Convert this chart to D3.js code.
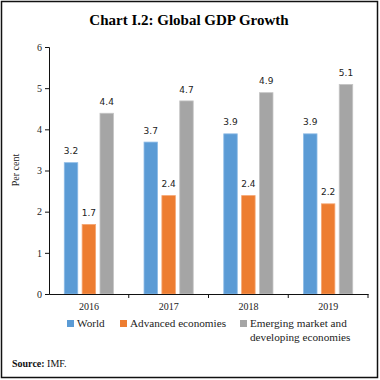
<!DOCTYPE html>
<html lang="en">
<head>
<meta charset="UTF-8">
<script src="https://d3js.org/d3.v7.min.js"></script>
<style>
  body { margin: 0; background: #fff; }
  svg { display: block; }
</style>
</head>
<body>
<svg id="chart" width="380" height="380"></svg>
<script>
var years = ["2016", "2017", "2018", "2019"];
var seriesNames = ["World", "Advanced economies", "Emerging market and developing economies"];
var world = [3.2, 3.7, 3.9, 3.9];
var advanced = [1.7, 2.4, 2.4, 2.2];
var emerging = [4.4, 4.7, 4.9, 5.1];
var yTicks = [0, 1, 2, 3, 4, 5, 6];
var colors = ["#5b9bd5", "#ed7d31", "#a5a5a5"];
var edges = ["#8dbbe6", "#f5a673", "#c4c4c4"];

var allSeries = [world, advanced, emerging];
var svg = d3.select("#chart");
var serif = "'Liberation Serif', 'DejaVu Serif', serif";
var sans = "'DejaVu Sans', Verdana, sans-serif";

// frame
svg.append("rect")
  .attr("x", 1.5).attr("y", 1.5)
  .attr("width", 376).attr("height", 376)
  .attr("fill", "none").attr("stroke", "#111").attr("stroke-width", 1.5);

// title
svg.append("text")
  .attr("x", 189).attr("y", 25)
  .attr("text-anchor", "middle")
  .style("font-family", serif).style("font-weight", "bold").style("font-size", "15px")
  .text("Chart I.2: Global GDP Growth");

var x0 = d3.scaleBand().domain(years).range([49, 368]);
var x1 = d3.scaleBand().domain(d3.range(3)).range([-25, 25]).paddingInner(0.2);
var y = d3.scaleLinear().domain([0, 6]).range([294, 47]);

// bars
var groups = svg.append("g").selectAll("g").data(years).enter().append("g")
  .attr("transform", function(d) { return "translate(" + (x0(d) + x0.bandwidth() / 2) + ",0)"; });

groups.selectAll("rect")
  .data(function(d, i) { return allSeries.map(function(s, k) { return { k: k, v: s[i] }; }); })
  .enter().append("rect")
  .attr("x", function(d) { return x1(d.k) + 0.4; })
  .attr("y", function(d) { return y(d.v) + 0.4; })
  .attr("width", x1.bandwidth() - 0.8)
  .attr("height", function(d) { return y(0) - y(d.v) - 0.4; })
  .attr("fill", function(d) { return colors[d.k]; })
  .attr("stroke", function(d) { return edges[d.k]; })
  .attr("stroke-width", 0.8);

groups.selectAll("text")
  .data(function(d, i) { return allSeries.map(function(s, k) { return { k: k, v: s[i] }; }); })
  .enter().append("text")
  .attr("x", function(d) { return x1(d.k) + x1.bandwidth() / 2; })
  .attr("y", function(d) { return y(d.v) - 8; })
  .attr("text-anchor", "middle")
  .style("font-family", sans).style("font-size", "9px").attr("fill", "#222")
  .text(function(d) { return d.v.toFixed(1); });

// y axis
var yAxis = svg.append("g")
  .attr("transform", "translate(49,0)")
  .call(d3.axisLeft(y).tickValues(yTicks).tickSize(4).tickFormat(d3.format("d")));
yAxis.select(".domain").attr("stroke", "#111");
yAxis.selectAll("line").attr("stroke", "#111");
yAxis.selectAll("text").style("font-family", serif).style("font-size", "10px").attr("fill", "#222");

// x axis
var xAxis = svg.append("g")
  .attr("transform", "translate(0,294)")
  .call(d3.axisBottom(x0).tickSize(0));
xAxis.select(".domain").attr("stroke", "#111");
xAxis.selectAll("text").attr("dy", "1.3em")
  .style("font-family", serif).style("font-size", "10px").attr("fill", "#222");
svg.append("g").selectAll("line").data(years.slice(1).concat(["end"])).enter().append("line")
  .attr("x1", function(d) { return d === "end" ? 368 : x0(d); })
  .attr("x2", function(d) { return d === "end" ? 368 : x0(d); })
  .attr("y1", 294).attr("y2", 298)
  .attr("stroke", "#111");

// y label
svg.append("text")
  .attr("transform", "translate(19,170) rotate(-90)")
  .attr("text-anchor", "middle")
  .style("font-family", serif).style("font-size", "10px").attr("fill", "#222")
  .text("Per cent");

// legend
var legendX = [67, 120, 240];
var legend = svg.append("g");
seriesNames.forEach(function(name, k) {
  legend.append("rect")
    .attr("x", legendX[k]).attr("y", 320)
    .attr("width", 7).attr("height", 7)
    .attr("fill", colors[k]);
  var t = legend.append("text")
    .attr("x", legendX[k] + 10).attr("y", 327)
    .style("font-family", serif).style("font-size", "11.2px").attr("fill", "#222");
  if (k === 2) {
    t.append("tspan").attr("x", legendX[k] + 10).text("Emerging market and");
    t.append("tspan").attr("x", legendX[k] + 10).attr("dy", 14).text("developing economies");
  } else {
    t.text(name);
  }
});

// source
var src = svg.append("text")
  .attr("x", 12).attr("y", 367)
  .style("font-family", serif).style("font-size", "10px").attr("fill", "#111");
src.append("tspan").style("font-weight", "bold").text("Source: ");
src.append("tspan").text("IMF.");
</script>
</body>
</html>
